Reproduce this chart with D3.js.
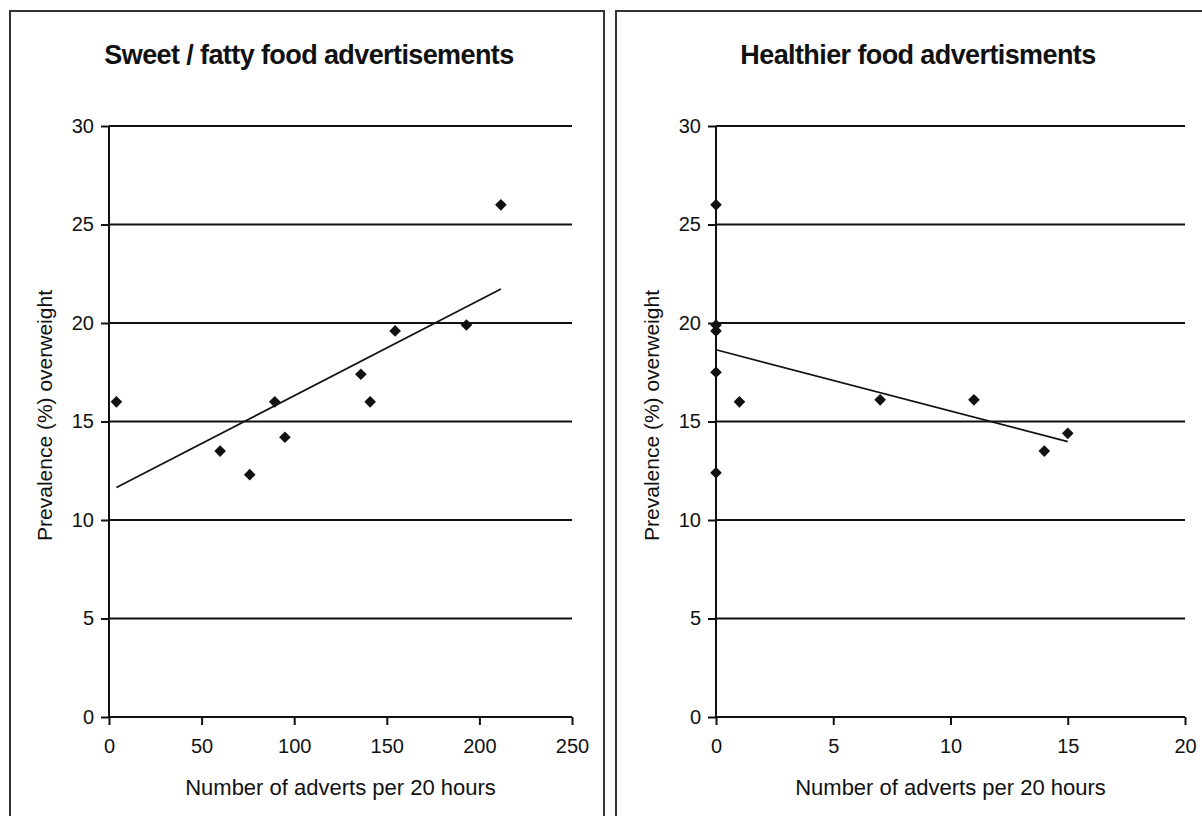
<!DOCTYPE html>
<html>
<head>
<meta charset="utf-8">
<script src="https://cdn.jsdelivr.net/npm/d3@7"></script>
<style>
  html, body { margin: 0; padding: 0; background: #fff; }
  svg { display: block; }
  text { font-family: Arial, "Liberation Sans", sans-serif; fill: #111; }
</style>
</head>
<body>
<svg id="chart" width="1202" height="816"></svg>
<script>
// Prevalence of overweight vs. number of food adverts (per 20 hours of TV)
const yTicks = [0, 5, 10, 15, 20, 25, 30];

// Sweet / fatty food adverts
const sweetAdverts    = [4, 60, 76, 89.5, 95, 136, 141, 154.5, 193, 211.6];
const sweetPrevalence = [16.0, 13.5, 12.3, 16.0, 14.2, 17.4, 16.0, 19.6, 19.9, 26.0];
const sweetXTicks     = [0, 50, 100, 150, 200, 250];

// Healthier food adverts
const healthyAdverts    = [0, 0, 0, 0, 0, 1, 7, 11, 14, 15];
const healthyPrevalence = [26.0, 19.9, 19.6, 17.5, 12.4, 16.0, 16.1, 16.1, 13.5, 14.4];
const healthyXTicks     = [0, 5, 10, 15, 20];

const titles = ["Sweet / fatty food advertisements", "Healthier food advertisments"];
const xTitle = "Number of adverts per 20 hours";
const yTitle = "Prevalence (%) overweight";

const svg = d3.select("#chart");

// least-squares fit used for the trend line
function linearFit(xs, ys) {
  const n = xs.length;
  const mx = d3.mean(xs), my = d3.mean(ys);
  let sxy = 0, sxx = 0;
  for (let i = 0; i < n; i++) {
    sxy += (xs[i] - mx) * (ys[i] - my);
    sxx += (xs[i] - mx) * (xs[i] - mx);
  }
  const slope = sxy / sxx;
  return { slope, intercept: my - slope * mx };
}

function panel(cfg) {
  const g = svg.append("g");

  // panel frame (open at the right/bottom where it runs off the page)
  g.append("rect")
    .attr("x", cfg.frame[0]).attr("y", cfg.frame[1])
    .attr("width", cfg.frame[2]).attr("height", cfg.frame[3])
    .attr("fill", "none").attr("stroke", "#333").attr("stroke-width", 2);

  const x = d3.scaleLinear().domain([0, cfg.xMax]).range([cfg.left, cfg.right]);
  const y = d3.scaleLinear().domain([0, 30]).range([cfg.bottom, cfg.top]);

  // horizontal gridlines
  g.append("g").selectAll("line").data(yTicks.filter(d => d > 0)).join("line")
    .attr("x1", cfg.left).attr("x2", cfg.right)
    .attr("y1", d => y(d)).attr("y2", d => y(d))
    .attr("stroke", "#111").attr("stroke-width", 2);

  // y axis
  const yAxis = g.append("g")
    .attr("transform", `translate(${cfg.left},0)`)
    .call(d3.axisLeft(y).tickValues(yTicks).tickSize(8).tickPadding(7).tickFormat(d3.format("d")));
  yAxis.select(".domain").attr("stroke", "#111").attr("stroke-width", 2).attr("d", `M0,${cfg.bottom}V${cfg.top}`);
  yAxis.selectAll(".tick line").attr("stroke", "#111").attr("stroke-width", 2);
  yAxis.selectAll(".tick text").attr("font-size", 20).attr("fill", "#111")
    .attr("font-family", "Arial, 'Liberation Sans', sans-serif");

  // x axis
  const xAxis = g.append("g")
    .attr("transform", `translate(0,${cfg.bottom})`)
    .call(d3.axisBottom(x).tickValues(cfg.xTicks).tickSize(8).tickPadding(14).tickFormat(d3.format("d")));
  xAxis.select(".domain").attr("stroke", "#111").attr("stroke-width", 2).attr("d", `M${cfg.left},0H${cfg.right}`);
  xAxis.selectAll(".tick line").attr("stroke", "#111").attr("stroke-width", 2);
  xAxis.selectAll(".tick text").attr("font-size", 20).attr("fill", "#111")
    .attr("font-family", "Arial, 'Liberation Sans', sans-serif");

  // trend line
  const fit = linearFit(cfg.xs, cfg.ys);
  const x0 = d3.min(cfg.xs), x1 = d3.max(cfg.xs);
  g.append("line")
    .attr("x1", x(x0)).attr("y1", y(fit.intercept + fit.slope * x0))
    .attr("x2", x(x1)).attr("y2", y(fit.intercept + fit.slope * x1))
    .attr("stroke", "#111").attr("stroke-width", 1.7);

  // diamond markers
  const diamond = d3.symbol().type(d3.symbolSquare).size(68);
  g.append("g").selectAll("path").data(cfg.xs.map((v, i) => [v, cfg.ys[i]])).join("path")
    .attr("d", diamond)
    .attr("transform", d => `translate(${x(d[0])},${y(d[1])}) rotate(45)`)
    .attr("fill", "#111");

  // titles
  g.append("text")
    .attr("x", cfg.titleX).attr("y", 64)
    .attr("text-anchor", "middle")
    .attr("font-size", 27).attr("font-weight", "bold")
    .attr("letter-spacing", -0.6)
    .text(cfg.title);

  g.append("text")
    .attr("x", (cfg.left + cfg.right) / 2).attr("y", 795)
    .attr("text-anchor", "middle")
    .attr("font-size", 22)
    .text(xTitle);

  g.append("text")
    .attr("transform", `translate(${cfg.left - 57},${(cfg.top + cfg.bottom) / 2 - 6}) rotate(-90)`)
    .attr("text-anchor", "middle")
    .attr("font-size", 21)
    .text(yTitle);
}

panel({
  frame: [10, 11, 594, 820],
  left: 109, right: 572, top: 126, bottom: 717,
  xMax: 250, xTicks: sweetXTicks,
  xs: sweetAdverts, ys: sweetPrevalence,
  title: titles[0], titleX: 309
});

panel({
  frame: [616, 11, 600, 820],
  left: 716, right: 1185, top: 126, bottom: 717,
  xMax: 20, xTicks: healthyXTicks,
  xs: healthyAdverts, ys: healthyPrevalence,
  title: titles[1], titleX: 918
});
</script>
</body>
</html>
